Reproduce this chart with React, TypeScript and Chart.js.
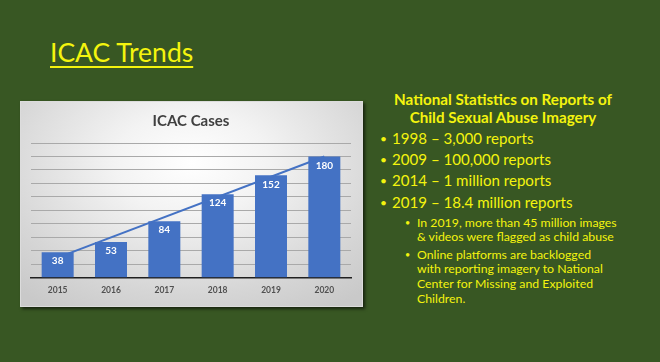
import React, { useEffect, useRef } from "react";
import { Chart, registerables } from "chart.js";

Chart.register(...registerables);

const years = ["2015", "2016", "2017", "2018", "2019", "2020"];
const cases = [38, 53, 84, 124, 152, 180];
const trend = [30, null, null, null, null, 180];
const yMax = 200;
const yStep = 20;

const headingLines = ["National Statistics on Reports of", "Child Sexual Abuse Imagery"];
const mainBullets = [
  "1998 \u2013 3,000 reports",
  "2009 \u2013 100,000 reports",
  "2014 \u2013 1 million reports",
  "2019 \u2013 18.4 million reports",
];
const subBullet1 = ["In 2019, more than 45 million images", "& videos were flagged as child abuse"];
const subBullet2 = [
  "Online platforms are backlogged",
  "with reporting imagery to National",
  "Center for Missing and Exploited",
  "Children.",
];

const YELLOW = "#f4f40e";
const GREEN = "#385723";
const FONT = "Lato, 'Open Sans', sans-serif";

const barLabels = {
  id: "barLabels",
  afterDatasetsDraw(chart: any) {
    const meta = chart.getDatasetMeta(0);
    const ctx = chart.ctx;
    ctx.save();
    ctx.fillStyle = "#ffffff";
    ctx.font = "bold 10px Lato";
    ctx.textAlign = "center";
    ctx.textBaseline = "middle";
    meta.data.forEach((bar: any, i: number) => {
      ctx.fillText(String(cases[i]), bar.x, bar.y + 9);
    });
    ctx.restore();
  },
};

function ChartBox() {
  const ref = useRef<HTMLCanvasElement>(null);
  useEffect(() => {
    if (!ref.current) return;
    const chart = new Chart(ref.current, {
      type: "bar",
      data: {
        labels: years,
        datasets: [
          {
            type: "bar",
            data: cases,
            backgroundColor: "#4472C4",
            categoryPercentage: 1,
            barPercentage: 0.6,
            order: 1,
          } as any,
          {
            type: "line",
            data: trend,
            borderColor: "#4472C4",
            borderWidth: 2,
            pointRadius: 0,
            spanGaps: true,
            fill: false,
            order: 0,
          } as any,
        ],
      },
      options: {
        animation: false,
        responsive: true,
        maintainAspectRatio: false,
        layout: { padding: { left: 10, right: 11, top: 0, bottom: 4 } },
        plugins: {
          legend: { display: false },
          tooltip: { enabled: false },
          title: {
            display: true,
            text: "ICAC Cases",
            color: "#404040",
            font: { family: "Lato", size: 15, weight: "bold" },
            padding: { top: 10, bottom: 13 },
          },
        },
        scales: {
          x: {
            grid: { display: false, drawTicks: false },
            border: { display: true, color: "#1f1f1f", width: 1.5 },
            ticks: { color: "#505050", font: { family: "Lato", size: 8.5, weight: "bold" }, padding: 7 },
          },
          y: {
            min: 0,
            max: yMax,
            ticks: { display: false, stepSize: yStep },
            grid: { color: "#a9a9a9", lineWidth: 1, drawTicks: false },
            border: { display: false },
          },
        },
      },
      plugins: [barLabels],
    });
    return () => chart.destroy();
  }, []);
  return (
    <div
      style={{
        position: "absolute",
        left: 20,
        top: 101,
        width: 343,
        height: 206,
        boxSizing: "border-box",
        border: "1px solid #dcdcdc",
        boxShadow: "2px 2px 3px rgba(0,0,0,0.6)",
        background:
          "radial-gradient(ellipse 75% 85% at 50% 30%, #ffffff 0%, #f3f3f3 30%, #d6d6d6 75%, #c9c9c9 100%)",
      }}
    >
      <canvas ref={ref} style={{ position: "absolute", left: 0, top: 0 }} />
    </div>
  );
}

export default function App() {
  return (
    <div
      style={{
        position: "fixed",
        left: 0,
        top: 0,
        width: 660,
        height: 362,
        background: GREEN,
        overflow: "hidden",
        fontFamily: FONT,
        color: YELLOW,
      }}
    >
      <div
        style={{
          position: "absolute",
          left: 50,
          top: 39,
          fontSize: 26.5,
          lineHeight: "27px",
          textDecoration: "underline",
          textDecorationThickness: "2px",
          textUnderlineOffset: "4px",
          whiteSpace: "nowrap",
        }}
      >
        ICAC Trends
      </div>
      <ChartBox />
      <div
        style={{
          position: "absolute",
          left: 393,
          width: 220,
          top: 90,
          textAlign: "center",
          fontWeight: "bold",
          fontSize: 15.2,
          lineHeight: "18px",
          whiteSpace: "nowrap",
        }}
      >
        {headingLines.map((l, i) => (
          <div key={i}>{l}</div>
        ))}
      </div>
      <div style={{ position: "absolute", left: 380, top: 127.7, fontSize: 15.1, lineHeight: "21.3px" }}>
        {mainBullets.map((b, i) => (
          <div key={i} style={{ position: "relative", paddingLeft: 12, whiteSpace: "nowrap" }}>
            <span style={{ position: "absolute", left: 0, fontSize: 12 }}>{"\u2022"}</span>
            {b}
          </div>
        ))}
      </div>
      <div style={{ position: "absolute", left: 405, top: 215.7, fontSize: 12.3, lineHeight: "14px" }}>
        <div style={{ position: "relative", paddingLeft: 12, whiteSpace: "nowrap" }}>
          <span style={{ position: "absolute", left: 0, fontSize: 9 }}>{"\u2022"}</span>
          {subBullet1.map((l, i) => (
            <div key={i}>{l}</div>
          ))}
        </div>
      </div>
      <div style={{ position: "absolute", left: 405, top: 247.6, fontSize: 12.3, lineHeight: "14.7px" }}>
        <div style={{ position: "relative", paddingLeft: 12, whiteSpace: "nowrap" }}>
          <span style={{ position: "absolute", left: 0, fontSize: 9 }}>{"\u2022"}</span>
          {subBullet2.map((l, i) => (
            <div key={i}>{l}</div>
          ))}
        </div>
      </div>
    </div>
  );
}
